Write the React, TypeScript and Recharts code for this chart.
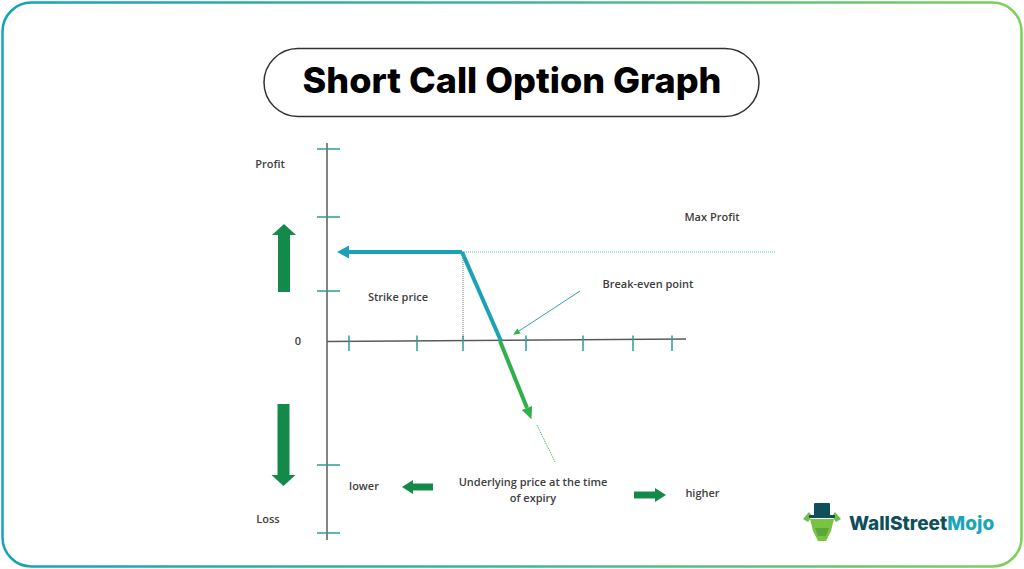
import React from "react";
import { ComposedChart, Line, XAxis, YAxis, ReferenceDot } from "recharts";

// Coordinate system: x = underlying price units, y = profit / loss units
const X_DOMAIN: [number, number] = [-32.7, 69.7];
const Y_DOMAIN: [number, number] = [-22.8, 34.1];

const yAxisLine = [{ x: 0, y: 19.8 }, { x: 0, y: -19.9 }];
const xAxisLine = [{ x: 0, y: -0.05 }, { x: 35.9, y: 0.2 }];
const yTickValues = [19.2, 12.4, 5.0, -12.4, -19.2];
const xTickValues = [2.2, 9.0, 13.6, 19.9, 25.6, 30.6, 34.5];

const maxProfitLine = [{ x: 13.5, y: 8.9 }, { x: 44.9, y: 8.9 }];
const strikeLine = [{ x: 13.6, y: 8.9 }, { x: 13.6, y: 0 }];
const premiumLeg = [{ x: 13.5, y: 8.9 }, { x: 2.2, y: 8.9 }];
const tealLossLeg = [{ x: 13.5, y: 8.9 }, { x: 17.4, y: 0 }];
const greenLossLeg = [{ x: 17.3, y: 0 }, { x: 20.0, y: -6.7 }];
const dottedLossLeg = [{ x: 21.0, y: -8.4 }, { x: 22.8, y: -12.1 }];
const breakEvenPointer = [{ x: 25.3, y: 5.0 }, { x: 19.2, y: 1.0 }];

const profitArrow = [{ x: -4.3, y: 4.9 }, { x: -4.3, y: 10.6 }];
const lossArrow = [{ x: -4.35, y: -6.3 }, { x: -4.35, y: -13.4 }];
const lowerArrow = [{ x: 10.6, y: -14.6 }, { x: 8.6, y: -14.6 }];
const higherArrow = [{ x: 30.7, y: -15.4 }, { x: 32.8, y: -15.4 }];

const labels = [
  { text: "Profit", x: -5.7, y: 17.8 },
  { text: "Loss", x: -5.9, y: -17.7 },
  { text: "0", x: -2.9, y: 0.1 },
  { text: "Strike price", x: 7.1, y: 4.5 },
  { text: "Max Profit", x: 38.5, y: 12.5 },
  { text: "Break-even point", x: 32.1, y: 5.8 },
  { text: "Underlying price at the time", x: 20.6, y: -14.0 },
  { text: "of expiry", x: 20.6, y: -15.6 },
  { text: "lower", x: 3.7, y: -14.4 },
  { text: "higher", x: 37.55, y: -15.1 },
];

const TEAL = "#1ba3b5";
const GREEN = "#148a4a";
const LIGHT_GREEN = "#2fb04b";
const TICK = "#2a9d96";
const TEXT = "#404040";

const Marker = ({ id, len, width, color }: { id: string; len: number; width: number; color: string }) => (
  <marker
    id={id}
    markerUnits="userSpaceOnUse"
    markerWidth={len}
    markerHeight={width}
    refX={0}
    refY={width / 2}
    orient="auto"
    overflow="visible"
  >
    <path d={`M0,0 L${len},${width / 2} L0,${width} Z`} fill={color} />
  </marker>
);

const seg = (key: string, data: any[], stroke: string, strokeWidth: number, extra: any = {}) => (
  <Line
    key={key}
    data={data}
    dataKey="y"
    type="linear"
    stroke={stroke}
    strokeWidth={strokeWidth}
    dot={false}
    activeDot={false}
    isAnimationActive={false}
    legendType="none"
    {...extra}
  />
);

const TextShape = (text: string) => (props: any) => (
  <text
    x={props.cx}
    y={props.cy}
    textAnchor="middle"
    dominantBaseline="central"
    fontFamily="'Open Sans', sans-serif"
    fontWeight={600}
    fontSize={11}
    fill={TEXT}
  >
    {text}
  </text>
);

export default function App() {
  return (
    <div style={{ position: "absolute", left: 0, top: 0, width: 1024, height: 569, background: "#fff" }}>
      <svg width={0} height={0} style={{ position: "absolute" }}>
        <defs>
          <Marker id="headBig" len={11} width={24} color={GREEN} />
          <Marker id="headSmall" len={11} width={14} color={GREEN} />
          <Marker id="headTeal" len={12} width={13} color={TEAL} />
          <Marker id="headGreen" len={12} width={11} color={LIGHT_GREEN} />
          <Marker id="headPointer" len={7} width={6} color={LIGHT_GREEN} />
        </defs>
      </svg>
      <svg width={1024} height={569} style={{ position: "absolute", left: 0, top: 0 }}>
        <defs>
          <linearGradient id="borderGrad" x1="0" y1="0" x2="1" y2="0">
            <stop offset="0" stopColor="#16a2b8" />
            <stop offset="0.5" stopColor="#3fb59a" />
            <stop offset="1" stopColor="#7dd05a" />
          </linearGradient>
        </defs>
        <rect x={2.5} y={2.5} width={1019} height={564} rx={29} ry={29} fill="#fff" stroke="url(#borderGrad)" strokeWidth={2.5} />
        <rect x={264} y={48.5} width={495} height={68} rx={34} ry={34} fill="#fff" stroke="#333" strokeWidth={1.5} />
        <text
          x={512}
          y={93}
          textAnchor="middle"
          fontFamily="Inter, 'Open Sans', sans-serif"
          fontWeight={800}
          fontSize={35}
          fill="#000"
          textLength={419}
          lengthAdjust="spacingAndGlyphs"
        >
          Short Call Option Graph
        </text>
        {/* logo */}
        <g>
          <path d="M803,519 L809,512 L812,516 L808,522 Z" fill="#6cc04a" />
          <path d="M841,519 L835,512 L832,516 L836,522 Z" fill="#6cc04a" />
          <rect x={814} y={503} width={16} height={13} rx={1} fill="#0e4f5c" />
          <rect x={809} y={515} width={26} height={3} rx={1} fill="#0e4f5c" />
          <path d="M810,519 L834,519 L831,531 L826,541 L818,541 L813,531 Z" fill="#7cc242" />
          <path d="M815,528 L829,528 L826,536 L818,536 Z" fill="#5aa83a" />
        </g>
        <text
          x={849}
          y={529.5}
          fontFamily="Inter, 'Open Sans', sans-serif"
          fontWeight={800}
          fontSize={19}
        >
          <tspan fill="#0e4f5c">WallStreet</tspan>
          <tspan fill="#1aa6b7">Mojo</tspan>
        </text>
      </svg>
      <div style={{ position: "absolute", left: 0, top: 0 }}>
        <ComposedChart width={1024} height={569} margin={{ top: 0, right: 0, bottom: 0, left: 0 }}>
          <XAxis type="number" dataKey="x" domain={X_DOMAIN} allowDataOverflow hide />
          <YAxis type="number" dataKey="y" domain={Y_DOMAIN} allowDataOverflow hide />
          {seg("yaxis", yAxisLine, "#5a5a5a", 1.5)}
          {seg("xaxis", xAxisLine, "#5a5a5a", 1.5)}
          {yTickValues.map((v, i) =>
            seg(`yt${i}`, [{ x: -1.0, y: v }, { x: 1.3, y: v }], TICK, 1.5)
          )}
          {xTickValues.map((v, i) =>
            seg(`xt${i}`, [{ x: v, y: 0.55 }, { x: v, y: -1.0 }], TICK, 1.5)
          )}
          {seg("maxProfit", maxProfitLine, "#5bbdbd", 1, { strokeDasharray: "1 1" })}
          {seg("strike", strikeLine, "#777", 1, { strokeDasharray: "1 1" })}
          {seg("dottedLoss", dottedLossLeg, LIGHT_GREEN, 1, { strokeDasharray: "1 1" })}
          {seg("pointer", breakEvenPointer, "#3a9f9f", 1, { markerEnd: "url(#headPointer)" })}
          {seg("premium", premiumLeg, TEAL, 4, { markerEnd: "url(#headTeal)" })}
          {seg("greenLoss", greenLossLeg, LIGHT_GREEN, 4, { markerEnd: "url(#headGreen)" })}
          {seg("tealLoss", tealLossLeg, TEAL, 4, { strokeLinejoin: "round" })}
          {seg("profitArrow", profitArrow, GREEN, 12, { markerEnd: "url(#headBig)" })}
          {seg("lossArrow", lossArrow, GREEN, 12, { markerEnd: "url(#headBig)" })}
          {seg("lowerArrow", lowerArrow, GREEN, 7, { markerEnd: "url(#headSmall)" })}
          {seg("higherArrow", higherArrow, GREEN, 7, { markerEnd: "url(#headSmall)" })}
          {labels.map((l, i) => (
            <ReferenceDot key={`lbl${i}`} x={l.x} y={l.y} r={0} shape={TextShape(l.text)} />
          ))}
        </ComposedChart>
      </div>
    </div>
  );
}
